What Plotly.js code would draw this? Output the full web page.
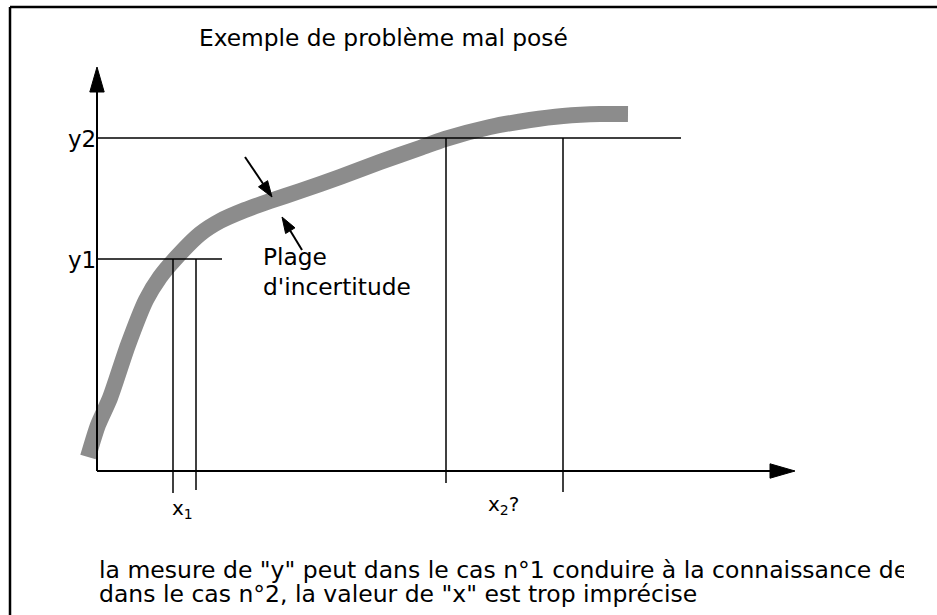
<!DOCTYPE html>
<html><head><meta charset="utf-8">
<script src="https://cdn.plot.ly/plotly-3.0.1.min.js"></script>
<style>html,body{margin:0;padding:0;background:#fff;}#chart{width:937px;height:615px;}</style>
</head><body><div id="chart"></div>
<script>
// ---- data (units: origin at the axes intersection) ----
const curveX = [-0.9, 0.1, 1.3, 3.1, 4.9, 6.3, 7.8, 10.3, 12.3, 14.8, 17.3, 20.3, 24.3, 28.3, 32.3, 34.8, 39.3, 43.3, 46.6, 50.3, 53.1];
const curveY = [1.4, 4.6, 7.3, 12.6, 17.1, 19.4, 21.2, 23.7, 25.0, 26.1, 27.0, 28.0, 29.4, 30.9, 32.3, 33.2, 34.4, 35.1, 35.5, 35.7, 35.7];
const levelLabels = ['y1', 'y2'];
const levelY = [21.2, 33.3];
const levelEndX = [12.5, 58.4];
const dropX = [7.6, 9.9, 34.9, 46.6];
const dropTopY = [21.2, 21.2, 33.3, 33.3];
const dropBottomY = [-2.2, -1.9, -1.2, -2.1];
const xLabels = ['x<sub>1</sub>', 'x<sub>2</sub>?'];
const xLabelX = [7.3, 38.9];
const xLabelTopY = [-2.3, -1.9];
const axisEndX = 69.8;
const axisEndY = 40.4;
const arrowTailX = [14.8, 20.5];
const arrowTailY = [31.4, 22.1];
const arrowTipX = [17.5, 18.5];
const arrowTipY = [27.4, 25.4];
const titleText = 'Exemple de problème mal posé';
const bandText = 'Plage<br>d\'incertitude';
const noteLines = ['la mesure de "y" peut dans le cas n°1 conduire à la connaissance de x avec une bonne précision',
                   'dans le cas n°2, la valeur de "x" est trop imprécise'];

// ---- layout helpers ----
const W = 937, H = 615;
const X0 = 97, Y0 = 471, PPU = 10; // pixel position of origin, pixels per unit
const px = v => v / W;
const py = v => 1 - v / H;
const FONT = 'DejaVu Sans, Verdana, sans-serif';

const shapes = [];
const annotations = [];
const blk = '#000';

// frame (left and top edges)
shapes.push({type: 'line', xref: 'paper', yref: 'paper', x0: px(10), y0: py(7), x1: px(10), y1: 0, line: {color: blk, width: 2.5}});
shapes.push({type: 'line', xref: 'paper', yref: 'paper', x0: px(10), y0: py(7), x1: 1, y1: py(7), line: {color: blk, width: 2.5}});

function triangle(tx, ty, dx, dy, len, half) {
  const n = Math.hypot(dx, dy); dx /= n; dy /= n;
  const bx = tx - dx * len, by = ty - dy * len;
  const nx = -dy, ny = dx;
  return {base: [bx, by], path: `M${tx},${ty} L${bx + nx * half},${by + ny * half} L${bx - nx * half},${by - ny * half} Z`};
}

// axes with arrow heads
const axHead = 2.5, axHalf = 0.72;
let t = triangle(axisEndX, 0, 1, 0, axHead, axHalf);
shapes.push({type: 'line', xref: 'x', yref: 'y', x0: 0, y0: 0, x1: t.base[0], y1: 0, line: {color: blk, width: 2}});
shapes.push({type: 'path', xref: 'x', yref: 'y', path: t.path, fillcolor: blk, line: {color: blk, width: 1}});
t = triangle(0, axisEndY, 0, 1, axHead, axHalf);
shapes.push({type: 'line', xref: 'x', yref: 'y', x0: 0, y0: 0, x1: 0, y1: t.base[1], line: {color: blk, width: 2}});
shapes.push({type: 'path', xref: 'x', yref: 'y', path: t.path, fillcolor: blk, line: {color: blk, width: 1}});

// level lines y1, y2
levelY.forEach((y, i) => {
  shapes.push({type: 'line', xref: 'x', yref: 'y', x0: 0, y0: y, x1: levelEndX[i], y1: y, line: {color: blk, width: 1.5}});
  annotations.push({xref: 'x', yref: 'y', x: 0.05, y: y - 0.1, text: levelLabels[i], showarrow: false,
    xanchor: 'right', yanchor: 'middle', font: {family: FONT, size: 23, color: blk}});
});
// drop lines
dropX.forEach((x, i) => {
  shapes.push({type: 'line', xref: 'x', yref: 'y', x0: x, y0: dropTopY[i], x1: x, y1: dropBottomY[i], line: {color: blk, width: 1.5}});
});
// x labels
xLabels.forEach((s, i) => {
  annotations.push({xref: 'x', yref: 'y', x: xLabelX[i], y: xLabelTopY[i], text: s, showarrow: false,
    xanchor: 'left', yanchor: 'top', font: {family: FONT, size: 20, color: blk}});
});
// pointer arrows
arrowTipX.forEach((tx, i) => {
  const tr = triangle(tx, arrowTipY[i], tx - arrowTailX[i], arrowTipY[i] - arrowTailY[i], 1.6, 0.55);
  shapes.push({type: 'line', xref: 'x', yref: 'y', x0: arrowTailX[i], y0: arrowTailY[i], x1: tr.base[0], y1: tr.base[1], line: {color: blk, width: 2}});
  shapes.push({type: 'path', xref: 'x', yref: 'y', path: tr.path, fillcolor: blk, line: {color: blk, width: 1}});
});

// texts
annotations.push({xref: 'paper', yref: 'paper', x: px(197), y: py(38), text: titleText, showarrow: false,
  xanchor: 'left', yanchor: 'middle', font: {family: FONT, size: 23.3, color: blk}});
annotations.push({xref: 'paper', yref: 'paper', x: px(261), y: py(241), text: bandText, showarrow: false,
  xanchor: 'left', yanchor: 'top', align: 'left', font: {family: FONT, size: 23.3, color: blk}});
annotations.push({xref: 'paper', yref: 'paper', x: px(97), y: py(570), text: noteLines[0], showarrow: false,
  xanchor: 'left', yanchor: 'middle', align: 'left', width: 805, font: {family: FONT, size: 23.5, color: blk}});
annotations.push({xref: 'paper', yref: 'paper', x: px(97), y: py(594), text: noteLines[1], showarrow: false,
  xanchor: 'left', yanchor: 'middle', align: 'left', font: {family: FONT, size: 23.5, color: blk}});

const traces = [{
  x: curveX, y: curveY, type: 'scatter', mode: 'lines',
  line: {color: '#8c8c8c', width: 16, shape: 'spline', smoothing: 0.7}, hoverinfo: 'skip'
}];

const layout = {
  width: W, height: H, margin: {l: 0, r: 0, t: 0, b: 0},
  paper_bgcolor: '#fff', plot_bgcolor: '#fff', showlegend: false,
  xaxis: {range: [-X0 / PPU, (W - X0) / PPU], visible: false, fixedrange: true},
  yaxis: {range: [-(H - Y0) / PPU, Y0 / PPU], visible: false, fixedrange: true},
  shapes: shapes, annotations: annotations
};
Plotly.newPlot('chart', traces, layout, {staticPlot: true, displayModeBar: false});
</script></body></html>
